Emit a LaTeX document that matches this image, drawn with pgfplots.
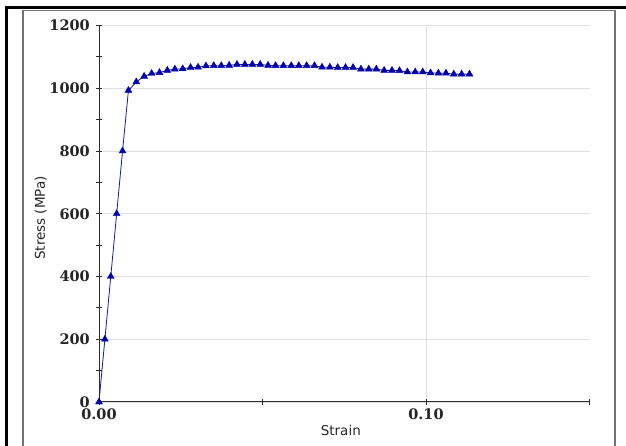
\documentclass[border=0pt]{standalone}
\usepackage{fontspec}
\setmainfont{DejaVu Sans}
\newfontfamily\tickfont{DejaVu Serif}
\usepackage{pgfplots}
\usepackage{pgfplotstable}
\pgfplotsset{compat=1.18}
\definecolor{plotline}{RGB}{25,25,140}
\definecolor{plotmark}{RGB}{0,0,175}
\definecolor{gridgray}{RGB}{224,224,224}
\definecolor{framegray}{RGB}{115,115,115}
\definecolor{axisgray}{RGB}{45,45,45}

\pgfplotstableread{
strain stress
0.0000 0
0.0018 200
0.0036 400
0.0054 600
0.0072 800
0.0090 993
0.0114 1020
0.0138 1038
0.0161 1047
0.0185 1050
0.0209 1057
0.0232 1061
0.0256 1062
0.0280 1066
0.0303 1067
0.0327 1071
0.0351 1072
0.0374 1072
0.0398 1073
0.0422 1076
0.0446 1076
0.0469 1076
0.0493 1076
0.0517 1073
0.0540 1072
0.0564 1072
0.0588 1072
0.0611 1072
0.0635 1072
0.0659 1072
0.0682 1067
0.0706 1067
0.0730 1066
0.0754 1066
0.0777 1066
0.0801 1061
0.0825 1061
0.0848 1061
0.0872 1057
0.0896 1057
0.0919 1056
0.0943 1052
0.0967 1052
0.0990 1052
0.1014 1049
0.1038 1048
0.1061 1048
0.1085 1045
0.1109 1045
0.1133 1045
}\stressstrain

\begin{document}
\begin{tikzpicture}
\useasboundingbox (0,0) rectangle (626bp,446bp);
\fill[white] (0,0) rectangle (626bp,446bp);
\draw[framegray, line width=1.6bp] (22.8bp,0) -- (22.8bp,435.5bp) -- (615bp,435.5bp) -- (615bp,0);
\draw[black, line width=3bp, line join=miter] (6bp,0) -- (6bp,438.8bp) -- (626bp,438.8bp);
\begin{axis}[
  at={(99bp,44bp)}, anchor=south west,
  scale only axis, width=490.5bp, height=376.5bp,
  xmin=0, xmax=0.15, ymin=0, ymax=1200,
  axis x line*=bottom, axis y line*=left,
  axis line style={-, axisgray, line width=1bp},
  xtick={0,0.1}, xticklabels={0.00,0.10},
  minor xtick={0.05,0.15},
  ytick={0,200,400,600,800,1000,1200},
  yticklabels={0,200,400,600,800,1000,1200},
  minor ytick={100,300,500,700,900,1100},
  tick align=center, major tick length=6bp, minor tick length=6bp,
  tick style={axisgray, line width=0.8bp},
  xmajorgrids, ymajorgrids,
  major grid style={gridgray, line width=0.9bp},
  ticklabel style={font=\tickfont\bfseries\fontsize{14.5bp}{16bp}\selectfont, text=black!85},
  xticklabel style={anchor=north, inner sep=0pt, yshift=-4bp},
  yticklabel style={anchor=east, inner sep=0pt, xshift=-6bp},
  xlabel={Strain}, ylabel={Stress (MPa)},
  label style={font=\fontsize{13.5bp}{16bp}\selectfont, text=black!85},
  xlabel style={at={(axis description cs:0.493,-0.0903)}, anchor=base},
  ylabel style={at={(axis description cs:-0.1101,0.489)}, anchor=base},
  clip=false,
]
\addplot[plotline, line width=0.8bp, mark=triangle*, mark size=4bp,
  mark options={fill=plotmark, draw=plotmark, line width=0.4bp}]
  table[x=strain, y=stress] {\stressstrain};
\end{axis}
\end{tikzpicture}
\end{document}
